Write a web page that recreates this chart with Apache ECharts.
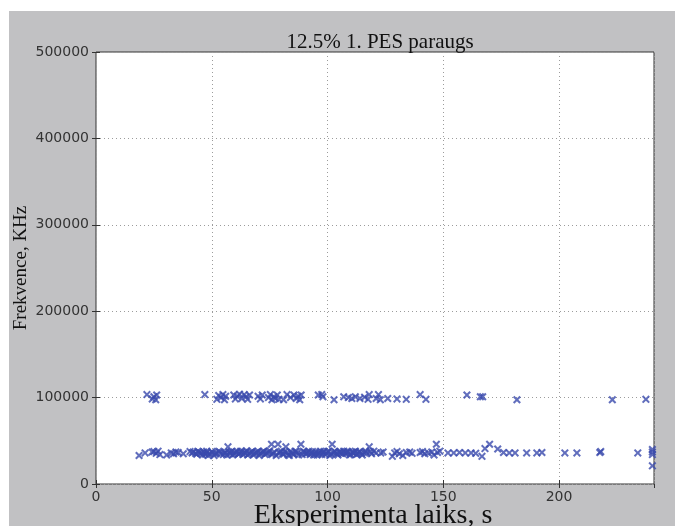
<!DOCTYPE html>
<html>
<head>
<meta charset="utf-8">
<script src="https://cdn.jsdelivr.net/npm/echarts@6/dist/echarts.min.js"></script>
<style>
  html, body { margin: 0; padding: 0; background: #ffffff; }
  #chart { width: 675px; height: 526px; }
</style>
</head>
<body>
<div id="chart"></div>
<script>
// Measurement time (s) and frequency (kHz) for the upper band (~100 MHz)
const timeHigh = [22.0, 24.3, 25.0, 25.8, 26.2, 47.0, 52.2, 53.0, 54.0, 54.8, 55.5, 56.0,
  59.5, 60.2, 61.0, 62.0, 63.0, 64.0, 64.8, 65.5, 66.3, 70.0, 71.0, 71.8, 74.5, 75.3, 76.0,
  76.8, 77.5, 78.3, 79.0, 81.0, 82.5, 84.0, 85.5, 86.5, 87.3, 88.0, 88.6, 96.0, 97.5, 98.0,
  102.8, 107.0, 109.0, 110.5, 112.0, 114.0, 116.0, 117.5, 118.0, 121.0, 122.0, 122.8, 126.0,
  130.0, 134.0, 140.0, 142.5, 160.2, 166.0, 167.0, 181.8, 223.0, 237.5];
const freqHigh = [103500, 98500, 101000, 97500, 103000, 103500, 98000, 102500, 100000, 103500, 97500, 101500,
  103000, 98500, 101500, 104000, 99000, 103500, 101000, 98000, 103000, 101500, 98500, 103000, 100000, 103500, 97500,
  101000, 99000, 103000, 98000, 97500, 103500, 100000, 103000, 99000, 101500, 97500, 103000, 103000, 103500, 101000,
  97500, 101000, 100000, 99000, 101000, 99000, 100500, 98000, 103500, 99000, 103500, 97500, 99000,
  98500, 98000, 103500, 98000, 103000, 101000, 101000, 97500, 97500, 98000];

// Measurement time (s) and frequency (kHz) for the lower band (~35 MHz)
const timeLow = [18.6, 21.2, 24.2, 25.0, 26.0, 26.8, 27.6, 30.5, 32.5, 33.5, 34.5, 35.5, 37.7, 40.6,
  42, 43, 44, 45, 46, 46.5, 47.3, 48, 49, 50, 51, 52, 53, 54, 55, 56, 57, 57.5, 58, 59, 60, 61, 62,
  63, 63.5, 64, 65, 66, 67, 68, 69, 70, 71, 72, 73, 74, 75, 75.8, 76.5, 77, 77.8, 78.6, 79, 80, 81,
  82, 82.5, 83, 84, 85, 86, 87, 88.5, 89, 90, 91, 92, 93, 94, 95, 96, 97, 98, 99, 100, 101, 102,
  102.5, 103, 104, 105, 106, 107, 108, 109, 110, 111, 112, 113, 114, 115, 117, 118, 118.5, 119, 120,
  121, 123, 124, 128, 129, 130, 131, 132.5, 134, 135.5, 136.5, 140, 141, 142, 143.5, 145, 146, 147,
  147.5, 148.5, 152, 154.5, 157, 159.5, 162, 164, 166.7, 168, 170, 173.5, 176, 178.5, 181, 186,
  190.4, 192.6, 202.5, 207.7, 217.6, 218, 234, 240.3, 240.3, 240.3, 240.3,
  41.5, 43.5, 44.5, 45.5, 47.8, 48.5, 50.5, 51.5, 53.5, 55.5, 56.5, 58.5, 59.5, 60.5, 61.5,
  62.5, 64.5, 65.5, 66.5, 67.5, 68.5, 69.5, 70.5, 71.5, 72.5, 73.5, 74.5, 76, 79.5, 80.5,
  81.5, 83.5, 84.5, 85.5, 86.5, 87.5, 89.5, 90.5, 91.5, 92.5, 93.5, 94.5, 95.5, 96.5, 97.5,
  98.5, 99.5, 100.5, 101.5, 103.5, 104.5, 105.5, 106.5, 107.5, 108.5, 109.5, 110.5, 111.5, 112.5, 113.5,
  114.5, 116, 116.5];
const freqLow = [33000, 36000, 37000, 37500, 35500, 38000, 34000, 33500, 36000, 35000, 37000, 36500, 35000, 37500,
  37000, 35500, 38000, 36000, 33500, 37000, 34500, 36500, 35000, 37500, 33000, 36000, 38000, 35000, 34000, 36500, 43000, 37000, 35000, 33500, 36000, 38000, 35500,
  37000, 34000, 36500, 38500, 35000, 37000, 33500, 36500, 38000, 35000, 37500, 34000, 36000, 38500, 46000, 35500, 37000, 33000, 46000, 36000, 38000, 34500,
  43000, 36500, 33500, 37500, 35000, 38000, 36000, 46000, 34000, 37000, 35500, 38000, 36000, 33500, 37000, 35000, 38000, 36500, 34000, 37500, 33000, 46000,
  36000, 38000, 35000, 37000, 36000, 38000, 35500, 37000, 34000, 36500, 38000, 35000, 37500, 33500, 36000, 43000, 37500, 35000, 38000,
  36000, 36000, 37000, 32000, 36000, 37500, 35000, 33000, 36500, 37000, 35500, 36500, 37500, 35000, 36000, 37000, 33500, 46000,
  36500, 38000, 36000, 36000, 36500, 36000, 36000, 35500, 32000, 41000, 46000, 40500, 36500, 36000, 36000, 36000,
  36000, 36500, 36000, 36000, 36500, 37500, 36000, 40000, 37000, 34000, 21000,
  36000, 34500, 37000, 35500, 38000, 33000, 36000, 35000, 37000, 36000, 33500, 37500, 35000, 37000, 34500,
  38000, 36000, 33500, 35500, 38000, 35000, 36500, 33000, 36000, 38000, 35500, 37000, 34000, 36500, 35000,
  37500, 33000, 36000, 34500, 37500, 33500, 38000, 35000, 36500, 34000, 37500, 35000, 33500, 36500, 34000,
  37500, 35500, 38000, 34500, 36500, 33500, 37500, 35000, 36000, 38000, 33500, 37000, 35500, 34000, 37000,
  35500, 36000, 38000];

const xTicks = [0, 50, 100, 150, 200];
const yTicks = [0, 100000, 200000, 300000, 400000, 500000];

const pairs = (xs, ys) => xs.map((x, i) => [x, ys[i]]);

// filled "x" marker
const crossPath = 'path://M0,1.8L1.8,0L5,3.2L8.2,0L10,1.8L6.8,5L10,8.2L8.2,10L5,6.8L1.8,10L0,8.2L3.2,5Z';
const markerColor = '#3a4aac';
const serif = '"Liberation Serif", "Times New Roman", serif';
const sans = '"DejaVu Sans", sans-serif';

const gridLine = { show: true, lineStyle: { color: '#9c9c9c', type: [1, 3], width: 1 } };
const tickIn = { show: true, inside: true, length: 4, lineStyle: { color: '#333' } };

const chart = echarts.init(document.getElementById('chart'), null, { renderer: 'canvas' });
chart.setOption({
  backgroundColor: '#ffffff',
  animation: false,
  graphic: [
    { type: 'rect', z: -10, shape: { x: 9, y: 11, width: 666, height: 515 }, style: { fill: '#c1c1c3' } },
    { type: 'rect', z: -9, shape: { x: 96, y: 52, width: 558, height: 432 }, style: { fill: '#ffffff' } },
    {
      type: 'text', x: 21, y: 268, rotation: Math.PI / 2,
      style: { text: 'Frekvence, KHz', font: '19px ' + serif, fill: '#111', textAlign: 'center', textVerticalAlign: 'middle' }
    },
    {
      type: 'text', x: 373, y: 516,
      style: { text: 'Eksperimenta laiks, s', font: '28px ' + serif, fill: '#111', textAlign: 'center', textVerticalAlign: 'middle' }
    }
  ],
  title: {
    text: '12.5% 1. PES paraugs',
    left: 375, top: 27, textAlign: 'center',
    textStyle: { fontFamily: serif, fontSize: 21, fontWeight: 'normal', color: '#111' }
  },
  grid: { left: 96, right: 21, top: 52, bottom: 42, outerBoundsMode: 'none', containLabel: false,
    show: true, borderColor: '#333', borderWidth: 1, backgroundColor: 'transparent' },
  xAxis: [{
    type: 'value', min: 0, max: 241, interval: 50,
    axisLine: { show: false },
    axisTick: tickIn,
    splitLine: gridLine,
    axisLabel: { showMaxLabel: false, fontFamily: sans, fontSize: 14, color: '#333', margin: 6,
      formatter: v => (xTicks.includes(v) ? String(v) : '') }
  }, {
    type: 'value', position: 'top', min: 0, max: 241, interval: 50,
    axisLine: { show: false }, axisTick: tickIn, axisLabel: { show: false }, splitLine: { show: false }
  }],
  yAxis: [{
    type: 'value', min: 0, max: 500000, interval: 100000,
    axisLine: { show: false },
    axisTick: tickIn,
    splitLine: gridLine,
    axisLabel: { fontFamily: sans, fontSize: 14, color: '#333', margin: 7,
      formatter: v => (yTicks.includes(v) ? String(v) : '') }
  }, {
    type: 'value', position: 'right', min: 0, max: 500000, interval: 100000,
    axisLine: { show: false }, axisTick: tickIn, axisLabel: { show: false }, splitLine: { show: false }
  }],
  series: [{
    type: 'scatter', data: pairs(timeLow, freqLow), symbol: crossPath, symbolSize: 8,
    itemStyle: { color: markerColor }, clip: true
  }, {
    type: 'scatter', data: pairs(timeHigh, freqHigh), symbol: crossPath, symbolSize: 8,
    itemStyle: { color: markerColor }, clip: true
  }]
});
</script>
</body>
</html>
